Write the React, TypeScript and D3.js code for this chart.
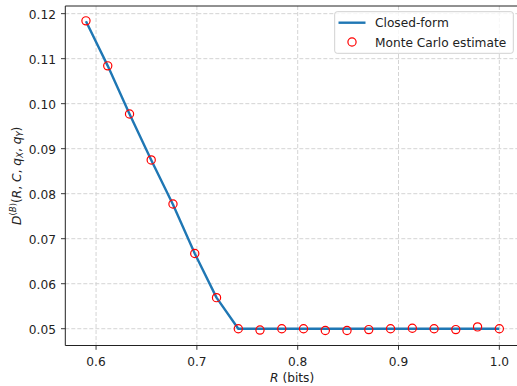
import React from "react";
import * as d3 from "d3";

const rValues = [
  0.59, 0.6116, 0.6332, 0.6547, 0.6763, 0.6979, 0.7195, 0.7411, 0.7626, 0.7842,
  0.8058, 0.8274, 0.8489, 0.8705, 0.8921, 0.9137, 0.9353, 0.9568, 0.9784, 1.0,
];
const closedForm = [
  0.1183, 0.1084, 0.0977, 0.0875, 0.0776, 0.0667, 0.0569, 0.05, 0.05, 0.05,
  0.05, 0.05, 0.05, 0.05, 0.05, 0.05, 0.05, 0.05, 0.05, 0.05,
];
const monteCarlo = [
  0.1184, 0.1084, 0.0977, 0.0875, 0.0777, 0.0667, 0.0569, 0.05, 0.0497, 0.05,
  0.05, 0.0496, 0.0496, 0.0498, 0.05, 0.0501, 0.05, 0.0498, 0.0504, 0.05,
];
const xTicks = [0.6, 0.7, 0.8, 0.9, 1.0];
const yTicks = [0.05, 0.06, 0.07, 0.08, 0.09, 0.1, 0.11, 0.12];

const FONT = "DejaVu Sans";
const FS = 12.2;

export default function App() {
  const left = 65.3;
  const right = 520;
  const top = 6;
  const bottom = 345.5;
  const x = d3.scaleLinear().domain([0.5695, 1.0205]).range([left, right]);
  const y = d3.scaleLinear().domain([0.04627, 0.1217]).range([bottom, top]);
  const line = d3
    .line<number>()
    .x((_, i) => x(rValues[i]))
    .y((d) => y(d));
  const gridColor = "#cfcfcf";
  return (
    <div style={{ position: "absolute", left: 0, top: 0 }}>
      <svg
        width={517}
        height={386}
        style={{ display: "block", background: "white" }}
        fontFamily={FONT}
      >
        <defs>
          <clipPath id="plotClip">
            <rect x={left} y={top} width={right - left} height={bottom - top} />
          </clipPath>
        </defs>
        {xTicks.map((t) => (
          <line
            key={"gx" + t}
            x1={x(t)}
            x2={x(t)}
            y1={top}
            y2={bottom}
            stroke={gridColor}
            strokeWidth={0.9}
            strokeDasharray="4,2"
          />
        ))}
        {yTicks.map((t) => (
          <line
            key={"gy" + t}
            x1={left}
            x2={right}
            y1={y(t)}
            y2={y(t)}
            stroke={gridColor}
            strokeWidth={0.9}
            strokeDasharray="4,2"
          />
        ))}
        <g clipPath="url(#plotClip)">
          <path
            d={line(closedForm) || ""}
            fill="none"
            stroke="#1f77b4"
            strokeWidth={2.4}
            strokeLinejoin="round"
            strokeLinecap="butt"
          />
          {monteCarlo.map((v, i) => (
            <circle
              key={"mc" + i}
              cx={x(rValues[i])}
              cy={y(v)}
              r={4.1}
              fill="none"
              stroke="#ff0000"
              strokeWidth={1.2}
            />
          ))}
        </g>
        <line x1={left} x2={left} y1={top} y2={bottom} stroke="#222" strokeWidth={1} />
        <line x1={left} x2={right} y1={bottom} y2={bottom} stroke="#222" strokeWidth={1} />
        <line x1={left} x2={right} y1={top} y2={top} stroke="#222" strokeWidth={1} />
        <line x1={right} x2={right} y1={top} y2={bottom} stroke="#222" strokeWidth={1} />
        {xTicks.map((t) => (
          <g key={"xt" + t}>
            <line x1={x(t)} x2={x(t)} y1={bottom} y2={bottom + 4.3} stroke="#222" strokeWidth={0.9} />
            <text x={x(t)} y={365.8} textAnchor="middle" fontSize={FS} fill="#222">
              {t.toFixed(1)}
            </text>
          </g>
        ))}
        {yTicks.map((t) => (
          <g key={"yt" + t}>
            <line x1={left - 4.3} x2={left} y1={y(t)} y2={y(t)} stroke="#222" strokeWidth={0.9} />
            <text x={56} y={y(t) + 5.3} textAnchor="end" fontSize={FS} fill="#222">
              {t.toFixed(2)}
            </text>
          </g>
        ))}
        <text x={(left + right) / 2 - 0.5} y={381.5} textAnchor="middle" fontSize={FS} fill="#222">
          <tspan fontStyle="italic">R</tspan>
          <tspan> (bits)</tspan>
        </text>
        <text
          transform={`translate(20.5, ${(top + bottom) / 2}) rotate(-90)`}
          textAnchor="middle"
          fontSize={FS}
          fill="#222"
        >
          <tspan fontStyle="italic">D</tspan>
          <tspan fontSize={FS * 0.7} dy={-4.8}>(</tspan>
          <tspan fontSize={FS * 0.7} fontStyle="italic">B</tspan>
          <tspan fontSize={FS * 0.7}>)</tspan>
          <tspan dy={4.8}>(</tspan>
          <tspan fontStyle="italic">R</tspan>
          <tspan>, </tspan>
          <tspan fontStyle="italic">C</tspan>
          <tspan>, </tspan>
          <tspan fontStyle="italic">q</tspan>
          <tspan fontSize={FS * 0.7} fontStyle="italic" dy={2.2}>X</tspan>
          <tspan dy={-2.2}>, </tspan>
          <tspan fontStyle="italic">q</tspan>
          <tspan fontSize={FS * 0.7} fontStyle="italic" dy={2.2}>Y</tspan>
          <tspan dy={-2.2}>)</tspan>
        </text>
        <rect
          x={334.7}
          y={11.7}
          width={178.6}
          height={41.6}
          rx={2.5}
          fill="white"
          fillOpacity={0.8}
          stroke="#cccccc"
          strokeWidth={0.9}
        />
        <line x1={338.5} x2={365.5} y1={22.7} y2={22.7} stroke="#1f77b4" strokeWidth={2.4} />
        <text x={375} y={27.2} fontSize={FS} fill="#222">Closed-form</text>
        <circle cx={352} cy={42} r={4.1} fill="none" stroke="#ff0000" strokeWidth={1.2} />
        <text x={375} y={46.5} fontSize={FS} fill="#222">Monte Carlo estimate</text>
      </svg>
    </div>
  );
}
